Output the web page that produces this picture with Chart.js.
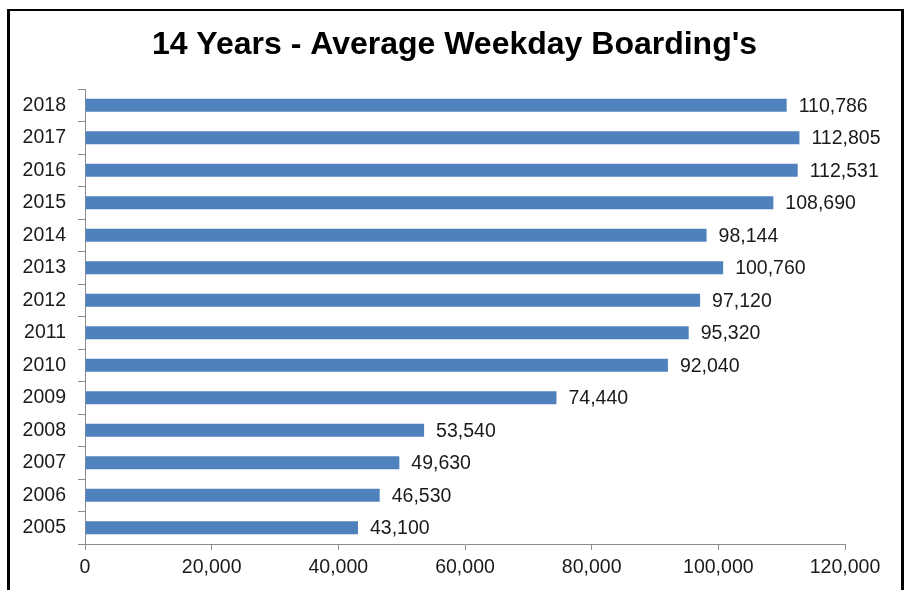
<!DOCTYPE html>
<html>
<head>
<meta charset="utf-8">
<script src="https://cdn.jsdelivr.net/npm/chart.js@4.4.1/dist/chart.umd.min.js"></script>
<style>
  html, body { margin: 0; padding: 0; background: #fff; width: 909px; height: 590px; overflow: hidden; }
  #wrap { position: absolute; left: 0; top: 0; width: 909px; height: 590px; }
  #frame { position: absolute; left: 7px; top: 9px; width: 897px; height: 620px; box-sizing: border-box;
           border-style: solid; border-color: #000; border-width: 2px 3px 3px 3px; pointer-events: none; }
</style>
</head>
<body>
<div id="wrap"><canvas id="c" width="909" height="590"></canvas></div>
<div id="frame"></div>
<script>
const titleText = "14 Years - Average Weekday Boarding's";
const years = ['2018','2017','2016','2015','2014','2013','2012','2011','2010','2009','2008','2007','2006','2005'];
const boardings = [110786, 112805, 112531, 108690, 98144, 100760, 97120, 95320, 92040, 74440, 53540, 49630, 46530, 43100];
const xTickMin = 0;
const xTickMax = 120000;
const xTickStep = 20000;

const FONT = "'Liberation Sans', Arial, sans-serif";
const TEXT = '#1a1a1a';
const AXIS = '#8c8c8c';

const valueLabels = {
  id: 'valueLabels',
  afterDatasetsDraw(chart) {
    const ctx = chart.ctx;
    const meta = chart.getDatasetMeta(0);
    ctx.save();
    ctx.font = '19.5px ' + FONT;
    ctx.fillStyle = TEXT;
    ctx.textAlign = 'left';
    ctx.textBaseline = 'middle';
    meta.data.forEach((bar, i) => {
      const v = chart.data.datasets[0].data[i];
      ctx.fillText(v.toLocaleString('en-US'), bar.x + 12, bar.y + 1);
    });
    ctx.restore();
  }
};

new Chart(document.getElementById('c'), {
  type: 'bar',
  data: {
    labels: years,
    datasets: [{
      data: boardings,
      backgroundColor: '#4F81BD',
      borderWidth: 0,
      barPercentage: 0.8,
      categoryPercentage: 0.5
    }]
  },
  plugins: [valueLabels],
  options: {
    indexAxis: 'y',
    responsive: false,
    animation: false,
    devicePixelRatio: 1,
    layout: { padding: 0 },
    plugins: {
      legend: { display: false },
      tooltip: { enabled: false },
      title: {
        display: true,
        text: titleText,
        color: '#000',
        font: { family: FONT, size: 32, weight: 'bold', lineHeight: 1.2 },
        padding: { top: 26, bottom: 24.6 }
      }
    },
    scales: {
      x: {
        type: 'linear',
        min: xTickMin,
        max: xTickMax,
        ticks: {
          stepSize: xTickStep,
          color: TEXT,
          font: { family: FONT, size: 19.5 },
          padding: 6,
          maxRotation: 0,
          callback: v => v.toLocaleString('en-US')
        },
        grid: { drawOnChartArea: false, color: AXIS, tickLength: 6 },
        border: { color: AXIS, width: 1 },
        afterFit: s => { s.height = 46; }
      },
      y: {
        type: 'category',
        ticks: {
          color: TEXT,
          font: { family: FONT, size: 19.5 },
          padding: 12
        },
        grid: { drawOnChartArea: false, color: AXIS, tickLength: 7, offset: true },
        border: { color: AXIS, width: 1 },
        afterFit: s => { s.width = 85; }
      },
      yRight: {
        type: 'linear',
        position: 'right',
        display: true,
        ticks: { display: false },
        grid: { display: false },
        border: { display: false },
        afterFit: s => { s.width = 64; }
      }
    }
  }
});
</script>
</body>
</html>
